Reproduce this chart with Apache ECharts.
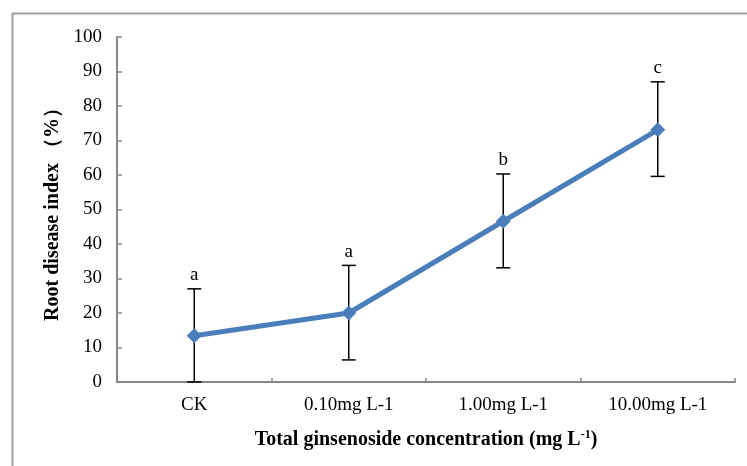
<!DOCTYPE html>
<html>
<head>
<meta charset="utf-8">
<script src="https://cdn.jsdelivr.net/npm/echarts@6/dist/echarts.min.js"></script>
<style>html,body{margin:0;padding:0;background:#fff}#c{width:747px;height:466px}</style>
</head>
<body>
<div id="c"></div>
<script>
var categories = ['CK', '0.10mg L-1', '1.00mg L-1', '10.00mg L-1'];
var means = [13.4, 20.0, 46.6, 73.1];
var errLow = [0, 6.4, 33.1, 59.6];
var errHigh = [27.0, 33.8, 60.3, 87.0];
var letters = ['a', 'a', 'b', 'c'];
var yTicks = [0, 10, 20, 30, 40, 50, 60, 70, 80, 90, 100];

var chart = echarts.init(document.getElementById('c'), null, {renderer: 'canvas'});
var serif = '"Liberation Serif", "Times New Roman", serif';
var errData = categories.map(function (c, i) { return [i, errLow[i], errHigh[i], letters[i]]; });

chart.setOption({
  animation: false,
  backgroundColor: '#fff',
  graphic: [
    {type: 'line', shape: {x1: 12, y1: 13.5, x2: 747, y2: 13.5}, style: {stroke: '#a0a0a0', lineWidth: 2}},
    {type: 'line', shape: {x1: 12.5, y1: 13, x2: 12.5, y2: 466}, style: {stroke: '#a0a0a0', lineWidth: 2}}
  ],
  grid: {left: 117, right: 12, top: 37, bottom: 84, containLabel: false},
  xAxis: {
    type: 'category',
    data: categories,
    boundaryGap: true,
    axisLine: {lineStyle: {color: '#878787', width: 2}},
    axisTick: {show: true, inside: true, length: 4, alignWithLabel: false, lineStyle: {color: '#878787', width: 1.5}},
    axisLabel: {margin: 14, fontFamily: serif, fontSize: 19, color: '#000'},
    name: 'Total ginsenoside concentration (mg L{sup|-1})',
    nameLocation: 'middle',
    nameGap: 47,
    nameTextStyle: {
      fontFamily: serif, fontSize: 20, fontWeight: 'bold', color: '#000',
      rich: {sup: {fontFamily: serif, fontSize: 12, fontWeight: 'bold', color: '#000', verticalAlign: 'top', padding: [0, 0, 10, 0]}}
    }
  },
  yAxis: {
    type: 'value',
    min: 0, max: 100, interval: 10,
    axisLine: {show: true, lineStyle: {color: '#878787', width: 2}},
    axisTick: {show: true, inside: true, length: 5, lineStyle: {color: '#878787', width: 1.5}},
    splitLine: {show: false},
    axisLabel: {margin: 15, fontFamily: serif, fontSize: 19, color: '#000',
      formatter: function (v) { return yTicks.indexOf(v) >= 0 ? String(v) : ''; }},
    name: 'Root disease index （%）',
    nameLocation: 'middle',
    nameGap: 52,
    nameTextStyle: {fontFamily: serif, fontSize: 20, fontWeight: 'bold', color: '#000'}
  },
  series: [
    {
      type: 'custom',
      z: 1,
      data: errData,
      renderItem: function (params, api) {
        var x = api.value(0);
        var lo = api.coord([x, api.value(1)]);
        var hi = api.coord([x, api.value(2)]);
        var w = 7;
        var st = {stroke: '#000', lineWidth: 1.5};
        return {
          type: 'group',
          children: [
            {type: 'line', shape: {x1: lo[0], y1: lo[1], x2: hi[0], y2: hi[1]}, style: st},
            {type: 'line', shape: {x1: hi[0] - w, y1: hi[1], x2: hi[0] + w, y2: hi[1]}, style: st},
            {type: 'line', shape: {x1: lo[0] - w, y1: lo[1], x2: lo[0] + w, y2: lo[1]}, style: st},
            {type: 'text', style: {text: api.value(3), x: hi[0], y: hi[1] - 4, align: 'center', verticalAlign: 'bottom',
              font: '19px ' + serif, fill: '#000'}}
          ]
        };
      }
    },
    {
      type: 'line',
      z: 3,
      data: means,
      symbol: 'diamond',
      symbolSize: 15,
      lineStyle: {color: '#4a7ebb', width: 5},
      itemStyle: {color: '#4a7ebb'}
    }
  ]
});
</script>
</body>
</html>
